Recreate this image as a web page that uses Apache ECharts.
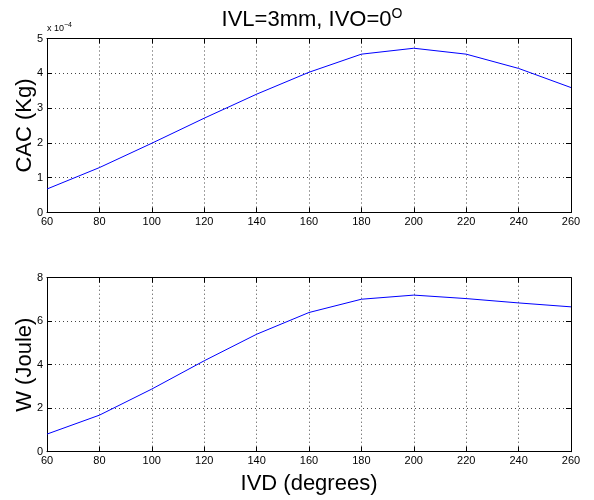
<!DOCTYPE html>
<html><head><meta charset="utf-8">
<script src="https://cdn.jsdelivr.net/npm/echarts@6/dist/echarts.min.js"></script>
<style>html,body{margin:0;padding:0;background:#fff}#c{width:594px;height:500px}</style>
</head><body><div id="c"></div>
<script>
const ivd = [60, 80, 100, 120, 140, 160, 180, 200, 220, 240, 260];
const cac = [0.675, 1.29, 1.99, 2.71, 3.40, 4.03, 4.55, 4.72, 4.55, 4.14, 3.59]; // x 1e-4 Kg
const work = [0.81, 1.68, 2.88, 4.18, 5.40, 6.40, 7.01, 7.20, 7.04, 6.84, 6.66];
const xTicks = [60, 80, 100, 120, 140, 160, 180, 200, 220, 240, 260];
const titleText = 'IVL=3mm, IVO=0';
const FONT = 'Liberation Sans, Arial, Helvetica, sans-serif';

const chart = echarts.init(document.getElementById('c'), null, {renderer: 'canvas'});
const grids = [
  {left: 47, right: 23, top: 38.5, height: 174, outerBoundsMode: 'none', containLabel: false},
  {left: 47, right: 23, top: 277.7, height: 174, outerBoundsMode: 'none', containLabel: false}
];
function xAx(gi, pos, labels) {
  return {
    type: 'value', gridIndex: gi, position: pos, min: 60, max: 260, interval: 20,
    axisLine: {show: true, onZero: false, lineStyle: {color: '#000', width: 1}},
    axisTick: {show: true, inside: true, length: 5, lineStyle: {color: '#000'}},
    axisLabel: {show: labels, color: '#000', fontSize: 11, fontFamily: FONT, margin: 4},
    splitLine: {show: labels, lineStyle: {color: '#444', type: [1, 3], width: 1}},
    name: (labels && gi === 1) ? 'IVD (degrees)' : '',
    nameLocation: 'middle', nameGap: 21,
    nameTextStyle: {color: '#000', fontSize: 22, fontFamily: FONT}
  };
}
function yAx(gi, pos, labels, max, interval, name) {
  return {
    type: 'value', gridIndex: gi, position: pos, min: 0, max: max, interval: interval,
    axisLine: {show: true, onZero: false, lineStyle: {color: '#000', width: 1}},
    axisTick: {show: true, inside: true, length: 5, lineStyle: {color: '#000'}},
    axisLabel: {show: labels, color: '#000', fontSize: 11, fontFamily: FONT, margin: 4},
    splitLine: {show: labels, lineStyle: {color: '#444', type: [1, 3], width: 1}},
    name: labels ? name : '', nameLocation: 'middle', nameGap: 11, nameRotate: 90,
    nameMoveOverlap: false,
    nameTextStyle: {color: '#000', fontSize: 22, fontFamily: FONT}
  };
}
const option = {
  animation: false,
  backgroundColor: '#fff',
  title: {
    text: '{a|' + titleText + '}{s|O}', left: 307, top: 2, textAlign: 'center',
    textStyle: {fontWeight: 'normal', rich: {
      a: {fontSize: 22, color: '#000', fontFamily: FONT, fontWeight: 'normal'},
      s: {fontSize: 14, color: '#000', fontFamily: FONT, fontWeight: 'normal', verticalAlign: 'top', padding: [0, 0, 12, 0]}
    }}
  },
  graphic: [{
    type: 'text', left: 47, top: 22,
    style: {text: '{a|x 10}{s|−4}', rich: {
      a: {fontSize: 9, fill: '#000', fontFamily: FONT},
      s: {fontSize: 7, fill: '#000', fontFamily: FONT, padding: [0, 0, 7, 0]}
    }}
  }],
  grid: grids,
  xAxis: [xAx(0, 'bottom', true), xAx(0, 'top', false), xAx(1, 'bottom', true), xAx(1, 'top', false)],
  yAxis: [
    yAx(0, 'left', true, 5, 1, 'CAC (Kg)'), yAx(0, 'right', false, 5, 1, ''),
    yAx(1, 'left', true, 8, 2, 'W (Joule)'), yAx(1, 'right', false, 8, 2, '')
  ],
  series: [
    {type: 'line', xAxisIndex: 0, yAxisIndex: 0, data: ivd.map((x, i) => [x, cac[i]]),
     showSymbol: false, lineStyle: {color: '#0000ff', width: 1}, itemStyle: {color: '#0000ff'}},
    {type: 'line', xAxisIndex: 2, yAxisIndex: 2, data: ivd.map((x, i) => [x, work[i]]),
     showSymbol: false, lineStyle: {color: '#0000ff', width: 1}, itemStyle: {color: '#0000ff'}}
  ]
};
chart.setOption(option);
</script></body></html>
